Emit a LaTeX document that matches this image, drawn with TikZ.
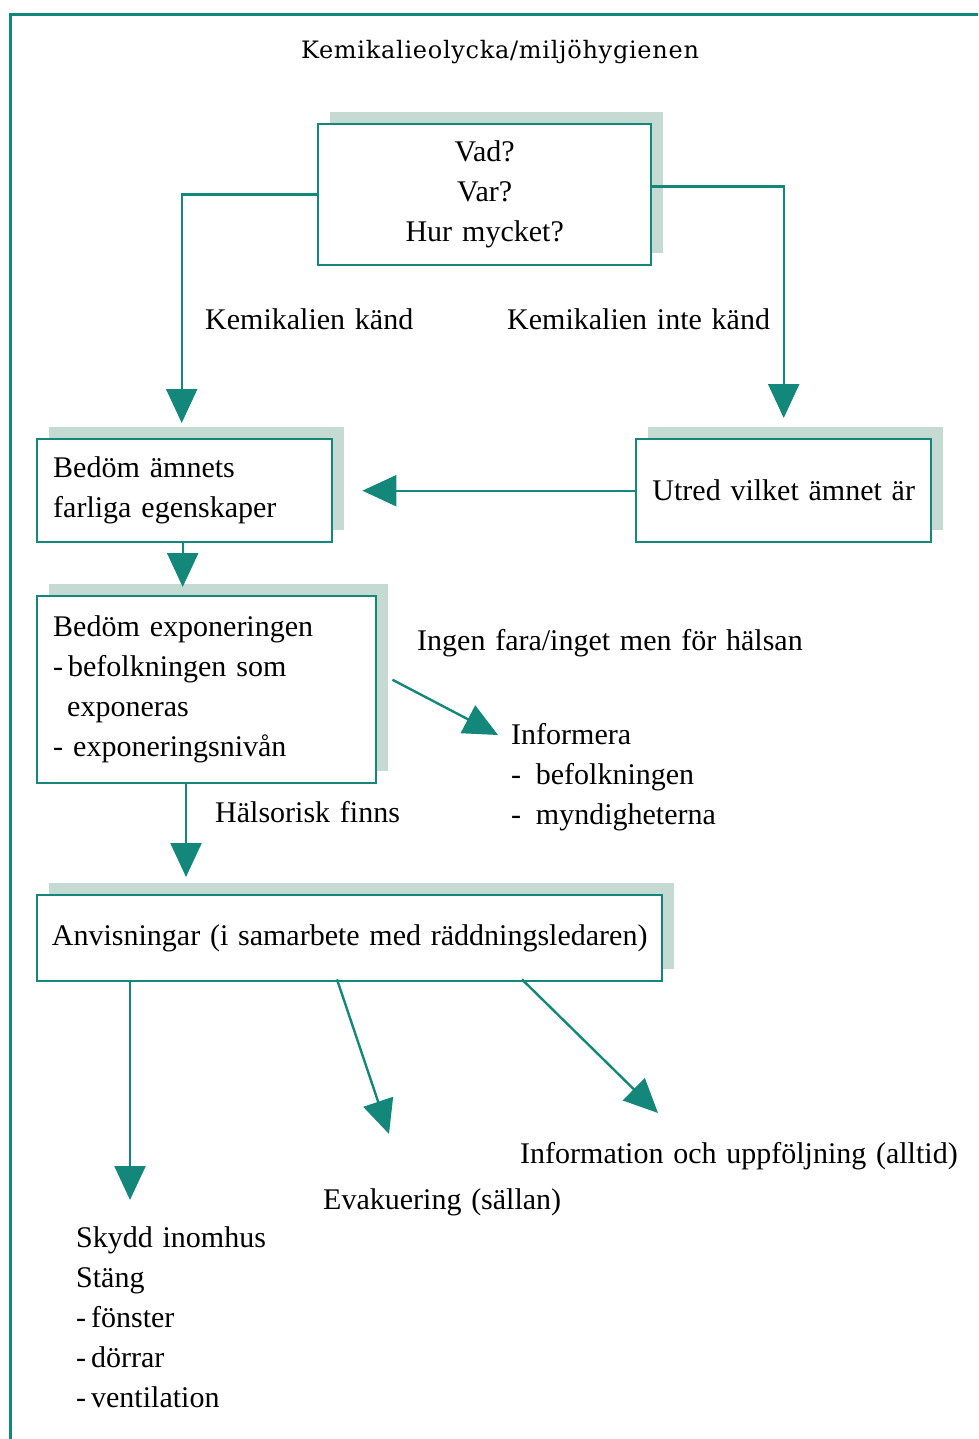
\documentclass[tikz,border=0pt]{standalone}
\usepackage{fontspec}
\setmainfont[WordSpace=1.3]{Liberation Serif}
\newfontfamily\headfont[LetterSpace=3]{DejaVu Serif}
\usetikzlibrary{arrows.meta,shadows}
\definecolor{flowteal}{HTML}{12877A}
\definecolor{flowshade}{HTML}{C6DAD4}

\begin{document}
\begin{tikzpicture}[x=1pt,y=-1pt,
  txt/.style={inner sep=0pt, font=\fontsize{30}{40}\selectfont},
  box/.style={txt, draw=flowteal, line width=2.4pt, fill=white,
    anchor=north west, inner xsep=16pt,
    drop shadow={shadow xshift=12pt, shadow yshift=12pt, fill=flowshade, opacity=1}},
  onebox/.style={box, inner xsep=8pt},
  lbl/.style={txt, anchor=base west},
  list/.style={txt, anchor=north west, align=left},
  arr/.style={draw=flowteal, line width=2.4pt, -{Triangle[length=34pt,width=31pt]}}
]
\useasboundingbox (0,0) rectangle (978,1439);

% outer frame (top and left edges)
\draw[flowteal, line width=3pt] (10,1439) -- (10,14.5) -- (978,14.5);

% heading
\node[inner sep=0pt, anchor=base, font=\headfont\fontsize{24}{28}\selectfont]
  (title) at (500,59) {Kemikalieolycka/miljöhygienen};

% boxes
\node[box, minimum width=333pt, minimum height=141pt, align=center,
  text width=301pt] (b1) at (317,123) {Vad?\\Var?\\Hur mycket?};
\node[box, minimum width=295pt, minimum height=103pt, align=left,
  text width=263pt] (b2) at (36,438) {Bedöm ämnets\\farliga egenskaper};
\node[onebox, minimum width=295pt, minimum height=103pt] (b3) at (635,438)
  {Utred vilket ämnet är};
\node[box, minimum width=339pt, minimum height=187pt, align=left,
  text width=307pt] (b4) at (36,595)
  {Bedöm exponeringen\\-\,befolkningen som\\\hspace*{14pt}exponeras\\- exponeringsnivån};
\node[onebox, minimum width=625pt, minimum height=86pt] (b5) at (36,894)
  {Anvisningar (i samarbete med räddningsledaren)};

% edge labels
\node[lbl] (lk) at (205,329) {Kemikalien känd};
\node[lbl] (lik) at (507,329) {Kemikalien inte känd};
\node[lbl] (lnf) at (417,650) {Ingen fara/inget men för hälsan};
\node[lbl] (lhr) at (215,822) {Hälsorisk finns};

% outcome texts
\node[list] (inf) at (511,723) {Informera\\- \,befolkningen\\- \,myndigheterna};
\node[lbl] (info) at (520,1163) {Information och uppföljning (alltid)};
\node[lbl] (evak) at (323,1209) {Evakuering (sällan)};
\node[list] (skydd) at (76,1226) {Skydd inomhus\\Stäng\\-\,fönster\\-\,dörrar\\-\,ventilation};

% arrow end points
\coordinate (tipInf) at (498,735);
\coordinate (tipSk) at (130,1200);
\coordinate (tipEv) at (389,1134);
\coordinate (tipIn) at (658,1113);

% connectors
\draw[arr] (b1.west) -| ([xshift=-3pt,yshift=15pt]b2.north);
\draw[arr] ([yshift=8pt]b1.east) -| ([yshift=20pt]b3.north);
\draw[arr] (b3.west) -- ([xshift=29pt]b2.east |- b3.west);
\draw[arr] ([xshift=-2pt]b2.south) -- ([xshift=-2pt,yshift=8pt]b2.south |- b4.north);
\draw[arr] ([xshift=15pt,yshift=10pt]b4.east) -- (tipInf);
\draw[arr] ([xshift=150pt]b4.south west) -- ([xshift=150pt,yshift=17pt]b4.south west |- b5.north);
\draw[arr] ([xshift=94pt]b5.south west) -- (tipSk);
\draw[arr] ([xshift=301pt,yshift=3pt]b5.south west) -- (tipEv);
\draw[arr] ([xshift=486pt,yshift=3pt]b5.south west) -- (tipIn);
\end{tikzpicture}
\end{document}
